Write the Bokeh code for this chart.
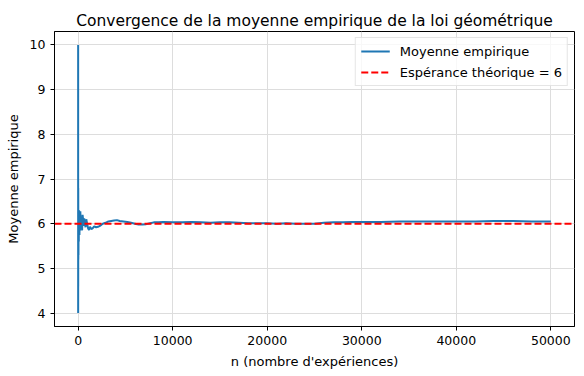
from bokeh.plotting import figure
from bokeh.models import Range1d, FixedTicker, BasicTickFormatter, Legend, LegendItem
from bokeh.embed import file_html
from bokeh.resources import INLINE

# Running mean of geometric samples
n_values = [1, 2, 3, 4, 5, 6, 8, 10, 12, 15, 18, 22, 26, 30, 35, 40, 50, 60, 70, 80,
            100, 120, 140, 160, 180, 200, 230, 260, 300, 340, 380, 420, 470, 520, 580,
            640, 700, 780, 860, 950, 1050, 1150, 1250, 1400, 1550, 1700, 1900, 2100,
            2300, 2600, 2900, 3200, 3500, 3800, 4100, 4400, 4800, 5200, 5600, 6000,
            6400, 6800, 7200, 7600, 8000, 8500, 9000, 10000, 11000, 12000, 13000,
            14000, 15000, 16000, 17000, 18000, 19000, 20000, 21000, 22000, 23000,
            24000, 25000, 26000, 27000, 28000, 29000, 30000, 32000, 34000, 36000,
            38000, 40000, 42000, 44000, 46000, 48000, 50000]
mean_values = [10.0, 5.5, 4.0, 4.75, 6.2, 5.5, 4.6, 5.3, 6.8, 6.1, 5.2, 5.6, 6.3, 5.7,
               5.3, 5.9, 6.25, 5.8, 5.6, 6.1, 6.3, 5.95, 5.75, 6.2, 6.1, 5.85, 6.28,
               6.1, 5.9, 6.15, 6.05, 5.85, 6.2, 6.1, 5.95, 6.12, 6.05, 5.92, 6.1, 6.0,
               5.9, 5.86, 5.93, 5.88, 5.9, 5.94, 5.92, 5.93, 5.95, 6.0, 6.02, 6.05,
               6.06, 6.07, 6.08, 6.06, 6.05, 6.04, 6.02, 6.0, 5.98, 5.98, 5.99, 6.01,
               6.03, 6.03, 6.04, 6.03, 6.03, 6.04, 6.03, 6.02, 6.03, 6.03, 6.02, 6.01,
               6.01, 6.01, 6.0, 6.01, 6.0, 6.0, 6.0, 6.02, 6.03, 6.03, 6.04, 6.04,
               6.04, 6.05, 6.05, 6.05, 6.05, 6.05, 6.06, 6.06, 6.05, 6.05]
expected_value = 6
x_ticks = [0, 10000, 20000, 30000, 40000, 50000]
y_ticks = [4, 5, 6, 7, 8, 9, 10]

FONT = "DejaVu Sans"
x_min, x_max = -2500, 52500

p = figure(width=584, height=376, output_backend="svg", toolbar_location=None,
           x_range=Range1d(x_min, x_max), y_range=Range1d(3.7, 10.3),
           min_border_left=54, min_border_right=10, min_border_top=31,
           min_border_bottom=50)

p.title.text = "Convergence de la moyenne empirique de la loi géométrique"
p.title.text_font = FONT
p.title.text_font_size = "15.5px"
p.title.text_font_style = "normal"
p.title.align = "center"
p.title.text_color = "black"
p.title.standoff = 4

blue = p.line(n_values, mean_values, line_color="#1f77b4", line_width=2)
red = p.line([x_min, x_max], [expected_value, expected_value], line_color="red",
             line_width=2, line_dash="7 3")

legend = Legend(items=[LegendItem(label="Moyenne empirique", renderers=[blue]),
                       LegendItem(label="Espérance théorique = 6", renderers=[red])],
                location="top_right")
legend.label_text_font = FONT
legend.label_text_font_size = "13px"
legend.label_text_color = "black"
legend.border_line_color = "#cccccc"
legend.background_fill_alpha = 0.8
legend.glyph_width = 29
legend.glyph_height = 16
legend.label_standoff = 10
legend.label_height = 16
legend.spacing = 5
legend.padding = 5
legend.margin = 6
p.add_layout(legend)

for ax in (p.xaxis[0], p.yaxis[0]):
    ax.axis_label_text_font = FONT
    ax.axis_label_text_font_size = "13px"
    ax.axis_label_text_font_style = "normal"
    ax.axis_label_text_color = "black"
    ax.major_label_text_font = FONT
    ax.major_label_text_font_size = "12.5px"
    ax.major_label_text_color = "black"
    ax.minor_tick_line_color = None
    ax.major_tick_out = 4
    ax.major_tick_in = 0
    ax.axis_line_color = "black"
    ax.major_tick_line_color = "black"
    ax.axis_label_standoff = 6

p.xaxis[0].axis_label = "n (nombre d'expériences)"
p.yaxis[0].axis_label = "Moyenne empirique"
p.xaxis[0].ticker = FixedTicker(ticks=x_ticks)
p.yaxis[0].ticker = FixedTicker(ticks=y_ticks)
p.xaxis[0].formatter = BasicTickFormatter(use_scientific=False)
p.yaxis[0].major_label_orientation = "horizontal"

p.outline_line_color = "black"
p.outline_line_width = 1
p.xgrid.grid_line_color = "#dddddd"
p.ygrid.grid_line_color = "#dddddd"
p.background_fill_color = "white"
p.border_fill_color = "white"

open("out.html", "w").write(file_html(p, INLINE))
